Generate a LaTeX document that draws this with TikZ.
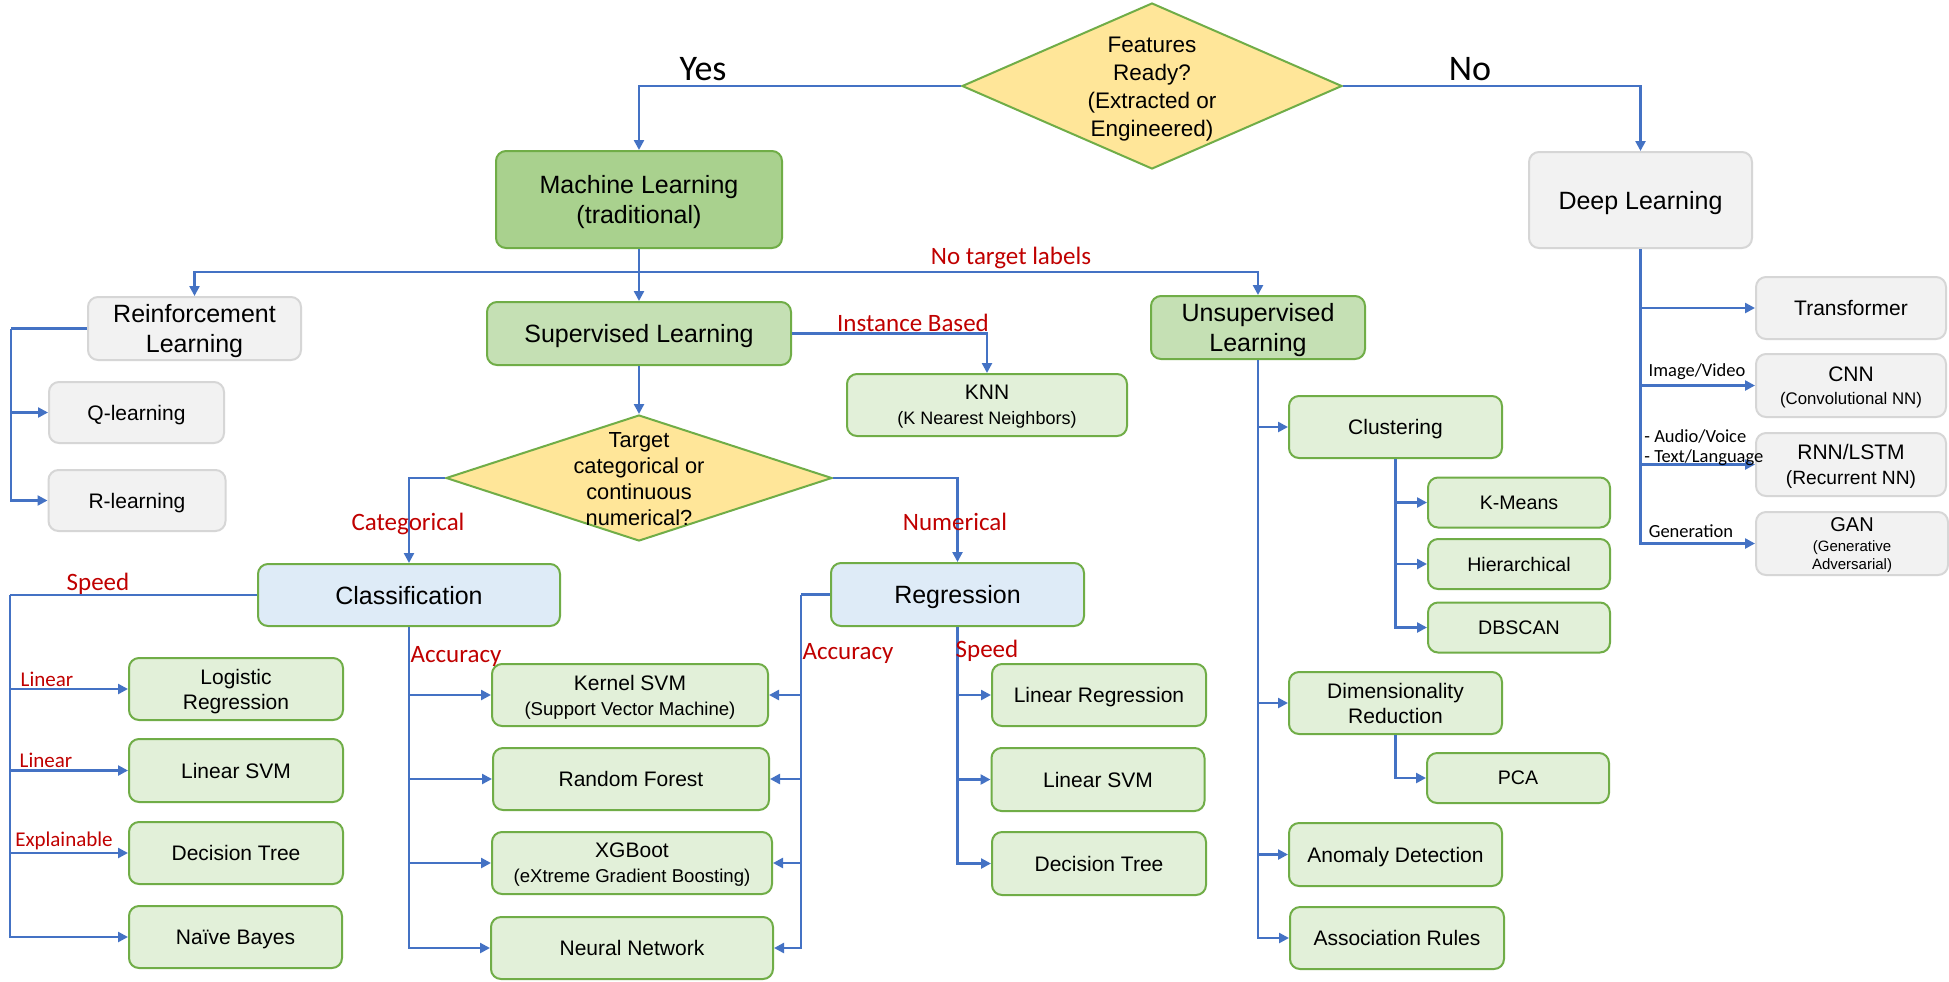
\documentclass[tikz,border=0pt]{standalone}
\usepackage{fontspec}
\setmainfont{Liberation Sans}
\newfontfamily\calfont{Carlito}
\usetikzlibrary{arrows.meta,shapes.geometric}
\newcommand\fsz[2]{\fontsize{#1}{#2}\selectfont}
\definecolor{leafG}{HTML}{E2F0D9}
\definecolor{borderG}{HTML}{70AD47}
\definecolor{mlG}{HTML}{A9D18E}
\definecolor{slG}{HTML}{C5E0B4}
\definecolor{blueF}{HTML}{DEEBF7}
\definecolor{yellowF}{HTML}{FFE699}
\definecolor{grayF}{HTML}{F2F2F2}
\definecolor{grayB}{HTML}{D6D6D6}
\definecolor{lineB}{HTML}{4472C4}
\definecolor{redT}{HTML}{C00000}
\tikzset{
  sz/.style 2 args={minimum width=#1*0.5pt, minimum height=#2*0.5pt},
  box/.style={draw, rounded corners=5pt, line width=1pt, inner sep=0pt, align=center, text depth=-0.4pt},
  mainfont/.style={font=\fsz{12.5}{15}},
  leaffont/.style={font=\fsz{10.5}{12.5}},
  smallfont/.style={font=\fsz{9.8}{12}},
  mlbox/.style={box, mainfont, fill=mlG, draw=borderG},
  slbox/.style={box, mainfont, fill=slG, draw=borderG},
  bluebox/.style={box, mainfont, fill=blueF, draw=borderG},
  graybox/.style={box, mainfont, fill=grayF, draw=grayB},
  grayleaf/.style={box, leaffont, fill=grayF, draw=grayB},
  leaf/.style={box, leaffont, fill=leafG, draw=borderG},
  smallleaf/.style={box, smallfont, fill=leafG, draw=borderG},
  dia/.style={shape=diamond, draw=borderG, fill=yellowF, line width=1pt, inner sep=0pt},
  diatext/.style={align=center, inner sep=0pt},
  conn/.style={draw=lineB, line width=1.2pt},
  arr/.style={conn, -{Triangle[length=5pt,width=5pt]}},
  redlbl/.style={text=redT, inner sep=0pt, font=\calfont\fsz{12.5}{15}},
  redsm/.style={text=redT, inner sep=0pt, font=\calfont\fsz{10.5}{12.5}},
  blacksm/.style={text=black, inner sep=0pt, font=\calfont\fsz{9.25}{10}},
  yesno/.style={inner sep=0pt, font=\calfont\fsz{18}{20}}
}
\begin{document}
\begin{tikzpicture}[x=0.5pt,y=-0.5pt]
\useasboundingbox[fill=white] (0,0) rectangle (1949,981);

% diamonds
\node[dia, minimum width=190pt, minimum height=83pt] (feat) at (1152,86) {};
\node[diatext, font=\fsz{11.25}{14}] (feattxt) at (1152,89.5) {Features\\Ready?\\(Extracted or\\Engineered)};
\node[dia, minimum width=193pt, minimum height=63pt] (tgt) at (639,478) {};
\node[diatext, font=\fsz{10.9}{13}] (tgttxt) at (639,479) {Target\\categorical or\\continuous\\numerical?};

% top level
\node[mlbox, sz={286}{97}] (ml) at (639,199.5) {Machine Learning\\(traditional)};
\node[graybox, sz={223}{96}] (dl) at (1640.5,200) {Deep Learning};

% second level
\node[graybox, sz={213}{63}] (rl) at (194.5,328.5) {Reinforcement\\Learning};
\node[grayleaf, sz={175}{61}] (q) at (136.5,412.5) {Q-learning};
\node[grayleaf, sz={177}{61}] (r) at (137,500.5) {R-learning};
\node[slbox, sz={304}{63}] (sl) at (639,333.5) {Supervised Learning};
\node[leaf, sz={280}{62}] (knn) at (987,405) {KNN\\{\fsz{9}{12}(K Nearest Neighbors)}};
\node[slbox, sz={214}{63}] (ul) at (1258,327.5) {Unsupervised\\Learning};

% unsupervised
\node[leaf, sz={213}{62}] (clust) at (1395.5,427) {Clustering};
\node[smallleaf, sz={182}{50}] (km) at (1519,502.5) {K-Means};
\node[smallleaf, sz={182}{50}] (hier) at (1519,564) {Hierarchical};
\node[smallleaf, sz={182}{50}] (dbs) at (1519,627.5) {DBSCAN};
\node[leaf, sz={213}{62}] (dr) at (1395.5,703) {Dimensionality\\Reduction};
\node[smallleaf, sz={182}{50}] (pca) at (1518,778) {PCA};
\node[leaf, sz={213}{63}] (ad) at (1395.5,854.5) {Anomaly Detection};
\node[leaf, sz={214}{62}] (ar) at (1397,938) {Association Rules};

% deep learning
\node[grayleaf, sz={190}{62}] (trans) at (1851,308) {Transformer};
\node[grayleaf, sz={190}{63}] (cnn) at (1851,385.5) {CNN\\[-1pt]{\fsz{8.4}{11}(Convolutional NN)}};
\node[grayleaf, sz={190}{63}] (rnn) at (1851,464.5) {RNN/LSTM\\{\fsz{9.6}{12}(Recurrent NN)}};
\node[grayleaf, sz={192}{63}, font=\fsz{10}{9}] (gan) at (1852,543.5) {GAN\\[1pt]{\fsz{7.5}{9}(Generative}\\{\fsz{7.5}{9}Adversarial)}};

% classification / regression
\node[bluebox, sz={302}{62}] (class) at (409,595) {Classification};
\node[bluebox, sz={253}{63}] (reg) at (957.5,594.5) {Regression};

\node[leaf, sz={214}{62}] (logr) at (236,689) {Logistic\\Regression};
\node[leaf, sz={214}{63}] (lsvm) at (236,770.5) {Linear SVM};
\node[leaf, sz={214}{62}] (dt) at (236,853) {Decision Tree};
\node[leaf, sz={213}{62}] (nb) at (235.5,937) {Naïve Bayes};

\node[leaf, sz={276}{62}] (ksvm) at (630,695) {Kernel SVM\\{\fsz{9.3}{12}(Support Vector Machine)}};
\node[leaf, sz={276}{62}] (rf) at (631,779) {Random Forest};
\node[leaf, sz={280}{62}] (xgb) at (632,863) {XGBoot\\{\fsz{9.3}{12}(eXtreme Gradient Boosting)}};
\node[leaf, sz={282}{62}] (nn) at (632,948) {Neural Network};

\node[leaf, sz={214}{62}] (linreg) at (1099,695) {Linear Regression};
\node[leaf, sz={213}{63}] (lsvm2) at (1098,779.5) {Linear SVM};
\node[leaf, sz={214}{63}] (dt2) at (1099,863.5) {Decision Tree};

% coordinates
\coordinate (mlb) at (639,272);
\coordinate (rlt) at (11,328.5);
\coordinate (cst) at (10,595);
\coordinate (rat) at (801,594.5);

% connectors
\draw[arr] (feat.west) -| (ml.north);
\draw[arr] (feat.east) -| (dl.north);
\draw[arr] (ml.south) -- (sl.north);
\draw[arr] (mlb) -| (rl.north);
\draw[arr] (mlb) -| (ul.north);
\draw[arr] (sl.east) -| (knn.north);
\draw[conn] (rl.west) -- (rlt);
\draw[arr] (rlt) |- (q.west);
\draw[arr] (rlt) |- (r.west);
\draw[arr] (sl.south) -- (tgt.north);
\draw[arr] (tgt.west) -| (class.north);
\draw[arr] (tgt.east) -| (reg.north);

\draw[conn] (class.west) -- (cst);
\draw[arr] (cst) |- (logr.west);
\draw[arr] (cst) |- (lsvm.west);
\draw[arr] (cst) |- (dt.west);
\draw[arr] (cst) |- (nb.west);

\draw[arr] (class.south) |- (ksvm.west);
\draw[arr] (class.south) |- (rf.west);
\draw[arr] (class.south) |- (xgb.west);
\draw[arr] (class.south) |- (nn.west);

\draw[conn] (reg.west) -- (rat);
\draw[arr] (rat) |- (ksvm.east);
\draw[arr] (rat) |- (rf.east);
\draw[arr] (rat) |- (xgb.east);
\draw[arr] (rat) |- (nn.east);

\draw[arr] (reg.south) |- (linreg.west);
\draw[arr] (reg.south) |- (lsvm2.west);
\draw[arr] (reg.south) |- (dt2.west);

\draw[arr] (ul.south) |- (clust.west);
\draw[arr] (ul.south) |- (dr.west);
\draw[arr] (ul.south) |- (ad.west);
\draw[arr] (ul.south) |- (ar.west);

\draw[arr] (clust.south) |- (km.west);
\draw[arr] (clust.south) |- (hier.west);
\draw[arr] (clust.south) |- (dbs.west);
\draw[arr] (dr.south) |- (pca.west);

\draw[arr] (dl.south) |- (trans.west);
\draw[arr] (dl.south) |- (cnn.west);
\draw[arr] (dl.south) |- (rnn.west);
\draw[arr] (dl.south) |- (gan.west);

% labels
\node[yesno] (yes) at (703,69) {Yes};
\node[yesno] (no) at (1470,69) {No};
\node[redlbl] (ntl) at (1011,258) {No target labels};
\node[redlbl] (ib) at (913,323) {Instance Based};
\node[redlbl] (cat) at (408,524) {Categorical};
\node[redlbl] (num) at (955,522) {Numerical};
\node[redlbl] (spd1) at (98,584) {Speed};
\node[redsm] (lin1) at (47,679) {Linear};
\node[redsm] (lin2) at (46,760) {Linear};
\node[redsm] (expl) at (64,841) {Explainable};
\node[redlbl] (acc1) at (456,656) {Accuracy};
\node[redlbl] (acc2) at (848,653) {Accuracy};
\node[redlbl] (spd2) at (987,651) {Speed};
\node[blacksm] (imv) at (1697,372) {Image/Video};
\node[blacksm, align=left, anchor=west] (avt) at (1644,448) {- Audio/Voice\\- Text/Language};
\node[blacksm] (gen) at (1691,531) {Generation};
\end{tikzpicture}
\end{document}
